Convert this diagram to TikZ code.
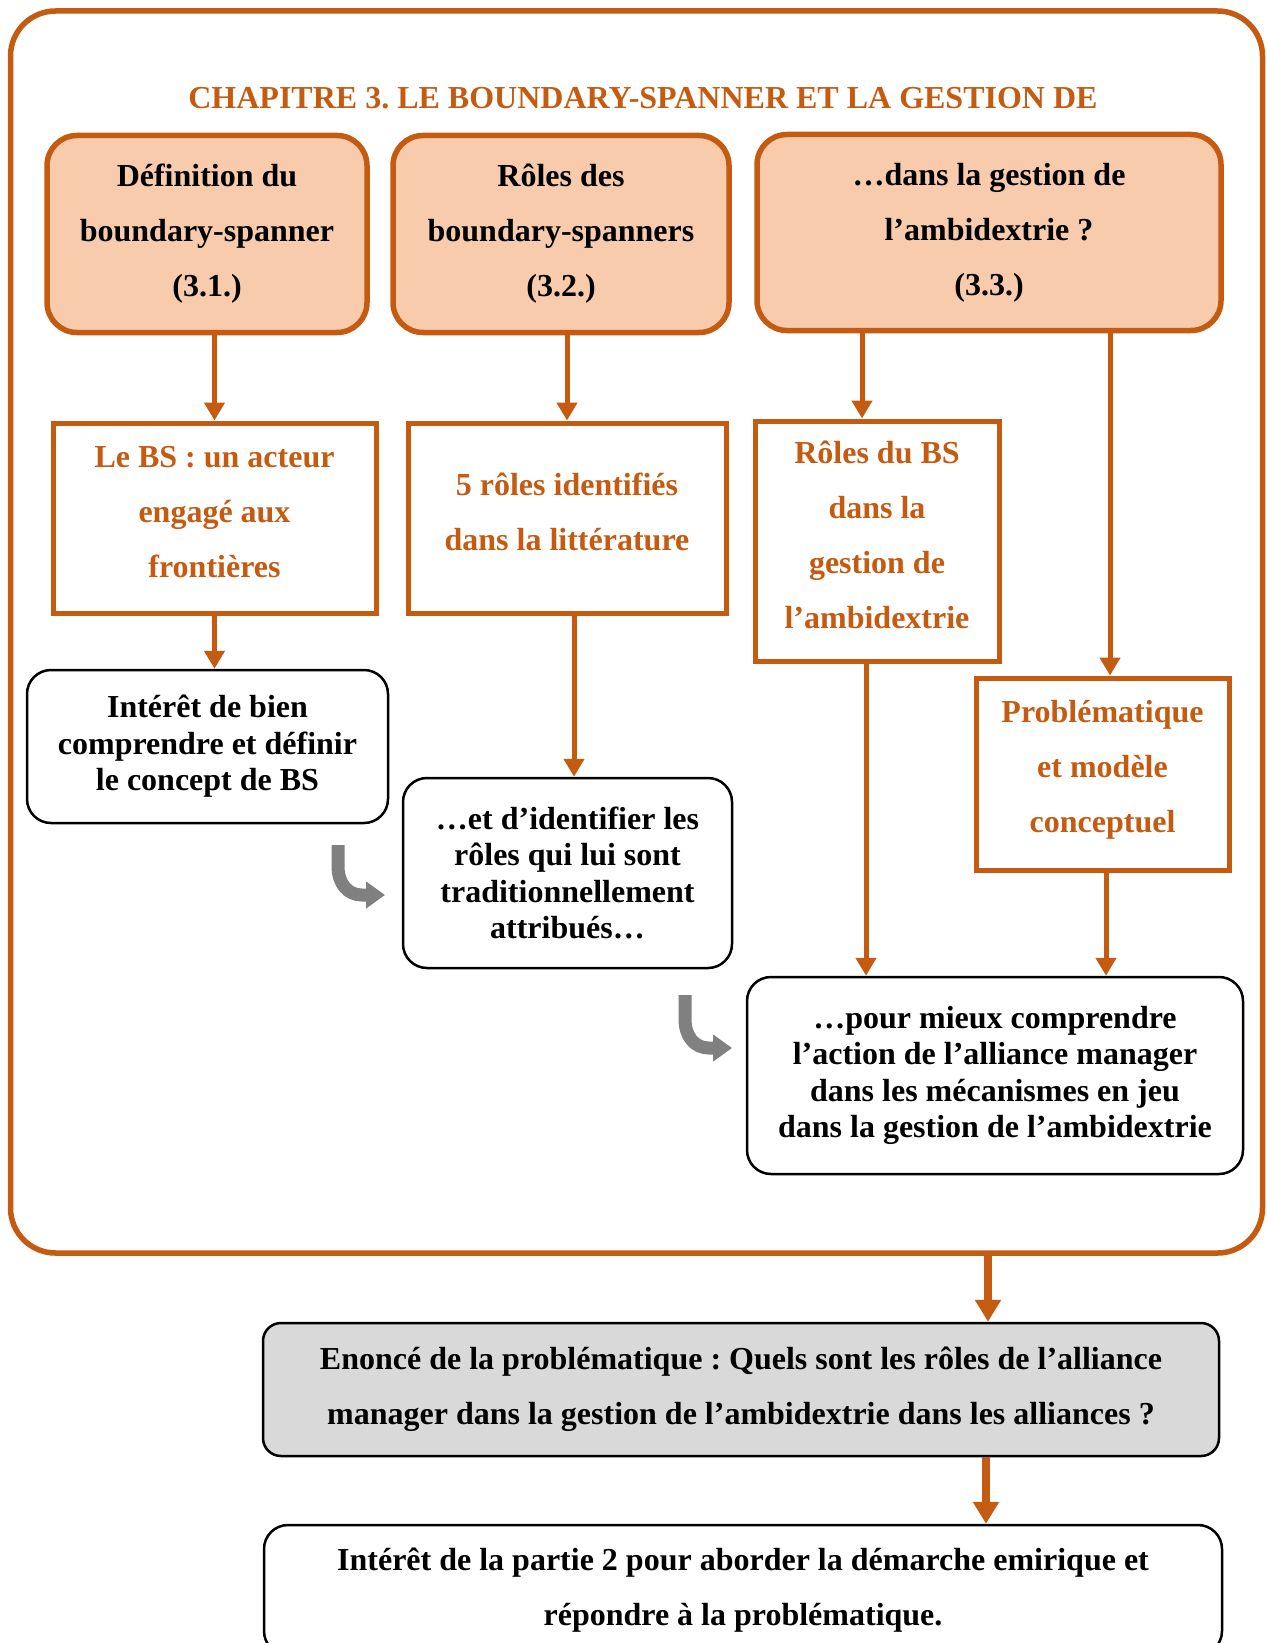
\documentclass[tikz,border=0pt]{standalone}
\usepackage{fontspec}
\setmainfont{Liberation Serif}
\usetikzlibrary{arrows.meta}
\definecolor{bsorange}{HTML}{C55A11}
\definecolor{bspeach}{HTML}{F8CBAD}
\definecolor{bsgray}{HTML}{D9D9D9}
\frenchspacing

\begin{document}
\begin{tikzpicture}[x=1pt,y=-1pt,
    every node/.style={font=\fontsize{32}{55}\selectfont\bfseries,align=center,inner sep=0pt},
    topbox/.style={draw=bsorange,fill=bspeach,line width=5.5pt,rounded corners=30pt},
    orbox/.style={draw=bsorange,line width=5pt,text=bsorange,text depth=12pt},
    bkbox/.style={draw=black,line width=2.5pt,rounded corners=24pt,font=\fontsize{32}{36.5}\selectfont\bfseries},
    oarr/.style={draw=bsorange,line width=5pt,-{Triangle[width=20pt,length=18pt]}},
    oarrbig/.style={draw=bsorange,line width=7.5pt,-{Triangle[width=25pt,length=22pt]}},
    garr/.style={draw=gray,line width=13pt,-{Triangle[width=26pt,length=19pt]}}]
    \useasboundingbox (0,0) rectangle (1266,1643);
    \clip (0,0) rectangle (1266,1643);
    \node[draw=bsorange,line width=5.5pt,rounded corners=45pt,minimum width=1252pt,minimum height=1242pt] (v0) at (636.5,632) {};
    \node[text=bsorange] (v13) at (643,98) {CHAPITRE 3. LE BOUNDARY-SPANNER ET LA GESTION DE};
    \node[topbox,minimum width=320pt,minimum height=197pt] (v1) at (207,234) {Définition du\\boundary-spanner\\(3.1.)};
    \node[topbox,minimum width=336pt,minimum height=197pt] (v2) at (561,234) {Rôles des\\boundary-spanners\\(3.2.)};
    \node[topbox,minimum width=464pt,minimum height=196pt] (v3) at (989,232.5) {…dans la gestion de\\l’ambidextrie ?\\(3.3.)};
    \node[orbox,minimum width=323pt,minimum height=190pt] (v4) at (214.5,518) {Le BS : un acteur\\engagé aux\\frontières};
    \node[orbox,minimum width=318pt,minimum height=190pt] (v5) at (567,518) {5 rôles identifiés\\dans la littérature};
    \node[orbox,minimum width=244pt,minimum height=240pt] (v6) at (877,541) {Rôles du BS\\dans la\\gestion de\\l’ambidextrie};
    \node[orbox,text depth=15pt,minimum width=253pt,minimum height=192pt] (v7) at (1102.5,774) {Problématique\\et modèle\\conceptuel};
    \node[bkbox,minimum width=361pt,minimum height=153pt] (v8) at (207.5,746.5) {Intérêt de bien\\comprendre et définir\\le concept de BS};
    \node[bkbox,minimum width=329pt,minimum height=190pt] (v9) at (567.5,873) {…et d’identifier les\\rôles qui lui sont\\traditionnellement\\attribués…};
    \node[bkbox,minimum width=496pt,minimum height=197pt] (v10) at (995,1075.5) {…pour mieux comprendre\\l’action de l’alliance manager\\dans les mécanismes en jeu\\dans la gestion de l’ambidextrie};
    \node[draw=black,fill=bsgray,line width=2.5pt,rounded corners=18pt,minimum width=956pt,minimum height=133pt] (v11) at (741,1389.5) {Enoncé de la problématique : Quels sont les rôles de l’alliance\\manager dans la gestion de l’ambidextrie dans les alliances ?};
    \node[draw=black,line width=2.5pt,rounded corners=24pt,minimum width=958pt,minimum height=130pt] (v12) at (743,1590) {Intérêt de la partie 2 pour aborder la démarche emirique et\\répondre à la problématique.};
    \coordinate (a3) at (862,0);
    \coordinate (a4) at (1110,0);
    \coordinate (a6) at (574,0);
    \coordinate (a7) at (866,0);
    \coordinate (a8) at (1106,0);
    \coordinate (a9) at (988,0);
    \coordinate (a10) at (986,0);
    \draw[oarr] (v4.north |- v1.south) -- (v4.north);
    \draw[oarr] (v5.north |- v2.south) -- (v5.north);
    \draw[oarr] (a3 |- v3.south) -- (a3 |- v6.north);
    \draw[oarr] (a4 |- v3.south) -- (a4 |- v7.north);
    \draw[oarr] (v4.south) -- (v4.south |- v8.north);
    \draw[oarr] (a6 |- v5.south) -- (a6 |- v9.north);
    \draw[oarr] (a7 |- v6.south) -- (a7 |- v10.north);
    \draw[oarr] (a8 |- v7.south) -- (a8 |- v10.north);
    \draw[oarrbig] (a9 |- v0.south) -- (a9 |- v11.north);
    \draw[oarrbig] (a10 |- v11.south) -- (a10 |- v12.north);
    \coordinate (g1) at (338,845);
    \coordinate (g2) at (385,895);
    \coordinate (g3) at (685,995);
    \coordinate (g4) at (732,1048);
    \draw[garr] (g1) -- (338,866) .. controls (338,884) and (348,895) .. (362,895) -- (g2);
    \draw[garr] (g3) -- (685,1019) .. controls (685,1037) and (695,1048) .. (709,1048) -- (g4);
\end{tikzpicture}
\end{document}
